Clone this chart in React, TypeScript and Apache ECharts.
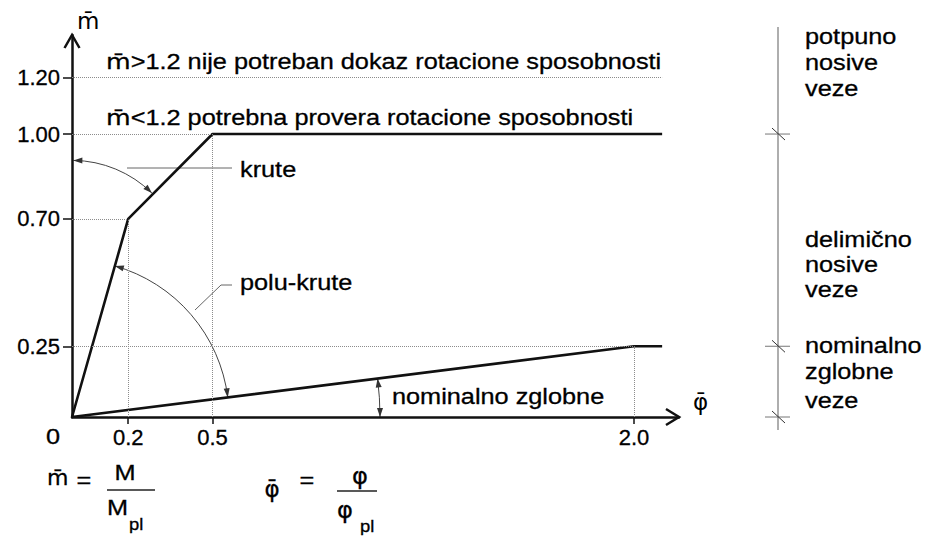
import React, { useEffect, useRef } from "react";
import * as echarts from "echarts";

// ---- data ----
const rigidPhi = [0, 0.2, 0.5, 2.1];
const rigidM = [0, 0.7, 1.0, 1.0];
const pinnedPhi = [0, 2.0, 2.1];
const pinnedM = [0, 0.25, 0.25];
const kinkPhi = [0.2, 0.5, 2.0];
const kinkM = [0.7, 1.0, 0.25];
const xTickValues = [0.2, 0.5, 2.0];
const yTickValues = [0.25, 0.7, 1.0, 1.2];
const limitM = 1.2;
const limitEndPhi = 2.1;
const classBounds = [0, 0.25, 1.0];
const classLabels = [
  ["potpuno", "nosive", "veze"],
  ["delimično", "nosive", "veze"],
  ["nominalno", "zglobne", "veze"],
];
const M_BAR = "m\u0304";
const PHI = "\u03c6";
const PHI_BAR = "\u03c6\u0304";
const topNote1 = ">1.2 nije potreban dokaz rotacione sposobnosti";
const topNote2 = "<1.2 potrebna provera rotacione sposobnosti";

const FONT = '"Liberation Sans", Arial, Helvetica, sans-serif';
const BAR_FONT = '"DejaVu Sans", "Liberation Sans", sans-serif';
const SX = 1.15;
const INK = "#000";

export default function App() {
  const ref = useRef<HTMLDivElement>(null);
  useEffect(() => {
    const el = ref.current!;
    const chart = echarts.init(el, null, { renderer: "svg" });

    const guides: any[] = [];
    kinkPhi.forEach((x, i) => {
      guides.push([{ coord: [0, kinkM[i]] }, { coord: [x, kinkM[i]] }]);
      guides.push([{ coord: [x, 0] }, { coord: [x, kinkM[i]] }]);
    });
    guides.push([{ coord: [0, limitM] }, { coord: [limitEndPhi, limitM] }]);

    const labelStyle = { fontSize: 22, fontFamily: FONT, color: INK, textBorderColor: INK, textBorderWidth: 0.3 };

    chart.setOption({
      animation: false,
      grid: { left: 72, top: 35, width: 607, height: 382, containLabel: false },
      xAxis: {
        type: "value",
        min: 0,
        max: 2.16,
        name: PHI_BAR,
        nameLocation: "end",
        nameGap: 14,
        nameTextStyle: { fontSize: 23, fontFamily: BAR_FONT, color: INK, align: "left", verticalAlign: "bottom", padding: [0, 0, 4, 0] },
        axisLine: { show: true, onZero: false, lineStyle: { color: "#111", width: 2.5 } },
        axisTick: { show: true, customValues: xTickValues, length: 7, lineStyle: { color: "#111", width: 1.5 } },
        axisLabel: { show: true, customValues: xTickValues, formatter: (v: number) => v.toFixed(1), margin: 9, ...labelStyle },
        splitLine: { show: false },
      },
      yAxis: {
        type: "value",
        min: 0,
        max: 1.35,
        name: M_BAR,
        nameLocation: "end",
        nameGap: 3,
        nameTextStyle: { fontSize: 23, fontFamily: BAR_FONT, color: INK, align: "left", verticalAlign: "bottom", padding: [0, 0, 0, 5] },
        axisLine: { show: true, onZero: false, lineStyle: { color: "#111", width: 2.5 } },
        axisTick: { show: true, customValues: yTickValues, length: 9, lineStyle: { color: "#111", width: 1.5 } },
        axisLabel: { show: true, customValues: yTickValues, formatter: (v: number) => v.toFixed(2), margin: 12, ...labelStyle },
        splitLine: { show: false },
      },
      series: [
        {
          type: "line",
          name: "guides",
          data: [],
          z: 1,
          markLine: {
            silent: true,
            symbol: ["none", "none"],
            label: { show: false },
            lineStyle: { type: "dotted", color: "#8c8c8c", width: 1 },
            data: guides,
          },
        },
        {
          type: "line",
          name: "krute",
          data: rigidPhi.map((x, i) => [x, rigidM[i]]),
          symbol: "none",
          showSymbol: false,
          z: 3,
          lineStyle: { color: "#111", width: 2.6 },
        },
        {
          type: "line",
          name: "nominalno zglobne",
          data: pinnedPhi.map((x, i) => [x, pinnedM[i]]),
          symbol: "none",
          showSymbol: false,
          z: 3,
          lineStyle: { color: "#111", width: 2.6 },
        },
      ],
    });

    const px = (x: number, y: number) => chart.convertToPixel({ gridIndex: 0 }, [x, y]) as number[];
    const txt = (text: string, x: number, y: number, o: any = {}) => ({
      type: "text",
      x,
      y,
      scaleX: o.sx ?? SX,
      silent: true,
      z: 10,
      style: {
        text,
        fill: INK,
        stroke: INK,
        lineWidth: 0.3,
        fontSize: o.size ?? 22,
        fontFamily: o.family ?? FONT,
        align: o.align ?? "left",
        textAlign: o.align ?? "left",
        verticalAlign: "middle",
        textVerticalAlign: "middle",
        rich: o.rich,
      },
    });
    const seg = (a: number[], b: number[], stroke = "#666", w = 1) => ({
      type: "line",
      silent: true,
      shape: { x1: a[0], y1: a[1], x2: b[0], y2: b[1] },
      style: { stroke, lineWidth: w },
    });
    const head = (tip: number[], dir: number[], len = 9, half = 3) => {
      const n = Math.hypot(dir[0], dir[1]);
      const ux = dir[0] / n, uy = dir[1] / n;
      const bx = tip[0] - ux * len, by = tip[1] - uy * len;
      return {
        type: "polygon",
        silent: true,
        shape: { points: [tip, [bx - uy * half, by + ux * half], [bx + uy * half, by - ux * half]] },
        style: { fill: "#333" },
      };
    };
    const arcArrow = (c: number[], r: number, a0: number, a1: number) => {
      const p0 = [c[0] + r * Math.cos(a0), c[1] + r * Math.sin(a0)];
      const p1 = [c[0] + r * Math.cos(a1), c[1] + r * Math.sin(a1)];
      return [
        { type: "arc", silent: true, shape: { cx: c[0], cy: c[1], r, startAngle: a0, endAngle: a1, clockwise: true }, style: { stroke: "#444", lineWidth: 1, fill: "none" } },
        head(p0, [Math.sin(a0), -Math.cos(a0)]),
        head(p1, [-Math.sin(a1), Math.cos(a1)]),
      ];
    };

    const o = px(0, 0);
    const kRigid = px(rigidPhi[1], rigidM[1]);
    const kPinned = px(pinnedPhi[1], pinnedM[1]);
    const angRigid = Math.atan2(kRigid[1] - o[1], kRigid[0] - o[0]);
    const angPinned = Math.atan2(kPinned[1] - o[1], kPinned[0] - o[0]);
    const yTop = px(0, 1.35);
    const xEnd = px(2.16, 0);

    const elements: any[] = [];
    // axis arrow chevrons
    elements.push({ type: "polyline", silent: true, shape: { points: [[yTop[0] - 7.5, yTop[1] + 13], yTop, [yTop[0] + 7.5, yTop[1] + 13]] }, style: { stroke: "#111", lineWidth: 2.5, fill: "none" } });
    elements.push({ type: "polyline", silent: true, shape: { points: [[xEnd[0] - 13, xEnd[1] - 8], xEnd, [xEnd[0] - 13, xEnd[1] + 8]] }, style: { stroke: "#111", lineWidth: 2.5, fill: "none" } });
    // origin label
    elements.push(txt("0", o[0] - 19, o[1] + 20, { align: "center" }));

    // arcs
    const kc = px(0, 0.504);
    elements.push(...arcArrow(kc, 114, -Math.PI / 2 + 0.012, -0.794));
    elements.push(...arcArrow(o, 157, angRigid, angPinned));
    elements.push(...arcArrow(o, 308, angPinned, 0));

    // leaders
    elements.push(seg([127, 168], [232, 168]));
    elements.push({ type: "polyline", silent: true, shape: { points: [[195, 310], [221, 285], [232, 285]] }, style: { stroke: "#666", lineWidth: 1, fill: "none" } });

    // annotation texts
    const barRich = { b: { fontFamily: BAR_FONT, fontSize: 22, fill: INK, stroke: INK, lineWidth: 0.3 } };
    elements.push(txt(`{b|${M_BAR}}${topNote1}`, 106, 62, { rich: barRich }));
    elements.push(txt(`{b|${M_BAR}}${topNote2}`, 106, 118, { rich: barRich }));
    elements.push(txt("krute", 240, 170));
    elements.push(txt("polu-krute", 240, 283));
    elements.push(txt("nominalno zglobne", 392, 397));

    // right classification scale
    const sx = 778;
    const sTop = px(0, 1.378)[1];
    const sBot = px(0, -0.046)[1];
    elements.push(seg([sx, sTop], [sx, sBot], "#9a9a9a", 1.6));
    classBounds.forEach((b) => {
      const y = px(0, b)[1];
      elements.push(seg([sx - 13, y], [sx + 12, y], "#777", 1));
      elements.push(seg([sx - 6, y - 6], [sx + 7, y + 6], "#333", 1));
    });
    const labelRows = [
      [37, 63, 89],
      [240, 265, 290],
      [346, 372, 401],
    ];
    classLabels.forEach((lines, i) => lines.forEach((l, j) => elements.push(txt(l, 805, labelRows[i][j]))));

    // formulas
    elements.push(txt(M_BAR, 47, 477, { family: BAR_FONT, sx: 1.0 }));
    elements.push(txt("=", 84, 481, { align: "center" }));
    elements.push(txt("M", 125, 473, { align: "center" }));
    elements.push(seg([107, 490], [155, 490], "#222", 1.5));
    elements.push(txt("M", 107, 508));
    elements.push(txt("pl", 129, 524, { size: 16 }));

    elements.push(txt(PHI_BAR, 272, 489, { align: "center", size: 23, family: BAR_FONT, sx: 1.0 }));
    elements.push(txt("=", 307, 481, { align: "center" }));
    elements.push(txt(PHI, 360, 476, { align: "center", size: 23, family: BAR_FONT, sx: 1.05 }));
    elements.push(seg([337, 491], [377, 491], "#222", 1.5));
    elements.push(txt(PHI, 337, 510, { size: 23, family: BAR_FONT, sx: 1.05 }));
    elements.push(txt("pl", 360, 526, { size: 16 }));

    chart.setOption({ graphic: { elements } });
    return () => chart.dispose();
  }, []);
  return <div ref={ref} style={{ position: "fixed", left: 0, top: 0, width: 925, height: 539, background: "#fff" }} />;
}
